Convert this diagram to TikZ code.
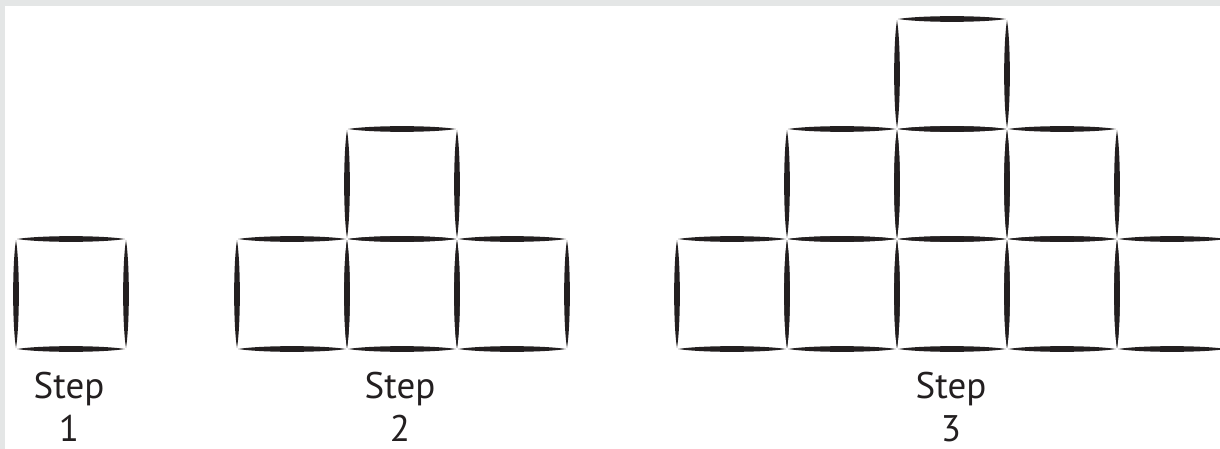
\documentclass[tikz,border=0pt]{standalone}
\usepackage{fontspec}
\setmainfont{PT Sans}
\definecolor{ink}{HTML}{231F20}
\definecolor{edge}{HTML}{E4E6E6}
\newcommand\hmatch[2]{\fill[ink] (#1+1,#2) .. controls (#1+25,#2-3.8) and (#1+85,#2-3.8) .. (#1+109,#2) .. controls (#1+85,#2+3.8) and (#1+25,#2+3.8) .. cycle;}
\newcommand\vmatch[2]{\fill[ink] (#1,#2+1) .. controls (#1-3.8,#2+25) and (#1-3.8,#2+85) .. (#1,#2+109) .. controls (#1+3.8,#2+85) and (#1+3.8,#2+25) .. cycle;}
\newcommand\cell[2]{\hmatch{#1}{#2}\hmatch{#1}{#2+110}\vmatch{#1}{#2}\vmatch{#1+110}{#2}}
\tikzset{lbl/.style={anchor=base,inner sep=0pt,font=\fontsize{37}{44}\selectfont,text=ink}}
\begin{document}
\begin{tikzpicture}[x=1pt,y=-1pt]
\useasboundingbox (0,0) rectangle (1220,449);
\fill[edge] (0,0) rectangle (1220,449);
\fill[white] (5,6) rectangle (1220,449);
\begin{scope}
\clip (0,0) rectangle (1220,449);
% step 1
\cell{16}{239}
% step 2
\cell{237}{239}\cell{347}{239}\cell{457}{239}
\cell{347}{129}
% step 3
\cell{677}{239}\cell{787}{239}\cell{897}{239}\cell{1007}{239}\cell{1117}{239}
\cell{787}{129}\cell{897}{129}\cell{1007}{129}
\cell{897}{19}
\end{scope}
% labels
\node[lbl] (s1) at (69,398) {Step};
\node[lbl] (n1) at (69,441) {1};
\node[lbl] (s2) at (400,398) {Step};
\node[lbl] (n2) at (400,441) {2};
\node[lbl] (s3) at (951,398) {Step};
\node[lbl] (n3) at (951,441) {3};
\end{tikzpicture}
\end{document}
